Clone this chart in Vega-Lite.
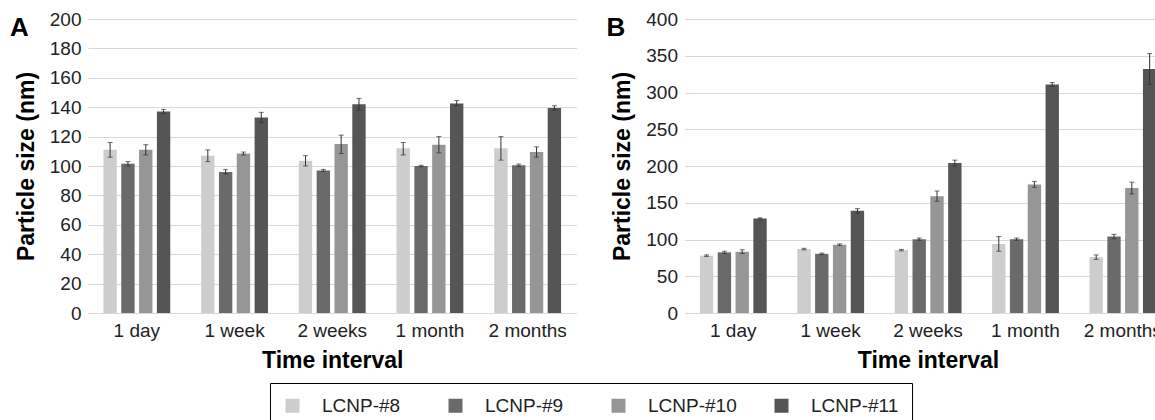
{
  "$schema": "https://vega.github.io/schema/vega-lite/v6.json",
  "background": "white",
  "padding": {"left": 10, "top": 10, "right": 0, "bottom": 0},
  "datasets": {
    "A": [
      {"time": "1 day", "series": "LCNP-#8", "size": 111, "lo": 106, "hi": 116},
      {"time": "1 day", "series": "LCNP-#9", "size": 101.5, "lo": 100, "hi": 103},
      {"time": "1 day", "series": "LCNP-#10", "size": 111, "lo": 107.5, "hi": 114.5},
      {"time": "1 day", "series": "LCNP-#11", "size": 137, "lo": 135.5, "hi": 138.5},
      {"time": "1 week", "series": "LCNP-#8", "size": 107, "lo": 103, "hi": 111},
      {"time": "1 week", "series": "LCNP-#9", "size": 96, "lo": 94.5, "hi": 97.5},
      {"time": "1 week", "series": "LCNP-#10", "size": 108.5, "lo": 107.5, "hi": 109.5},
      {"time": "1 week", "series": "LCNP-#11", "size": 133, "lo": 129.5, "hi": 136.5},
      {"time": "2 weeks", "series": "LCNP-#8", "size": 103.5, "lo": 100, "hi": 107},
      {"time": "2 weeks", "series": "LCNP-#9", "size": 97, "lo": 96.3, "hi": 97.7},
      {"time": "2 weeks", "series": "LCNP-#10", "size": 115, "lo": 108.5, "hi": 121},
      {"time": "2 weeks", "series": "LCNP-#11", "size": 142, "lo": 138, "hi": 146},
      {"time": "1 month", "series": "LCNP-#8", "size": 112, "lo": 107.5, "hi": 116},
      {"time": "1 month", "series": "LCNP-#9", "size": 100, "lo": 99.5, "hi": 100.5},
      {"time": "1 month", "series": "LCNP-#10", "size": 114.5, "lo": 109, "hi": 120},
      {"time": "1 month", "series": "LCNP-#11", "size": 142.5, "lo": 141, "hi": 144.5},
      {"time": "2 months", "series": "LCNP-#8", "size": 112, "lo": 104, "hi": 120},
      {"time": "2 months", "series": "LCNP-#9", "size": 100.5, "lo": 99.7, "hi": 101.3},
      {"time": "2 months", "series": "LCNP-#10", "size": 109.5, "lo": 106, "hi": 113},
      {"time": "2 months", "series": "LCNP-#11", "size": 139.5, "lo": 138, "hi": 141}
    ],
    "B": [
      {"time": "1 day", "series": "LCNP-#8", "size": 78, "lo": 77, "hi": 79},
      {"time": "1 day", "series": "LCNP-#9", "size": 82.5, "lo": 81, "hi": 84},
      {"time": "1 day", "series": "LCNP-#10", "size": 83.5, "lo": 81, "hi": 86},
      {"time": "1 day", "series": "LCNP-#11", "size": 128.5, "lo": 127.5, "hi": 129.5},
      {"time": "1 week", "series": "LCNP-#8", "size": 87, "lo": 86, "hi": 88},
      {"time": "1 week", "series": "LCNP-#9", "size": 80.5, "lo": 79.5, "hi": 81.5},
      {"time": "1 week", "series": "LCNP-#10", "size": 93, "lo": 92, "hi": 94},
      {"time": "1 week", "series": "LCNP-#11", "size": 139, "lo": 136, "hi": 142},
      {"time": "2 weeks", "series": "LCNP-#8", "size": 85.5, "lo": 84.5, "hi": 86.5},
      {"time": "2 weeks", "series": "LCNP-#9", "size": 100.5, "lo": 99, "hi": 102},
      {"time": "2 weeks", "series": "LCNP-#10", "size": 159, "lo": 152, "hi": 166},
      {"time": "2 weeks", "series": "LCNP-#11", "size": 204, "lo": 200, "hi": 208},
      {"time": "1 month", "series": "LCNP-#8", "size": 94, "lo": 84, "hi": 104},
      {"time": "1 month", "series": "LCNP-#9", "size": 100.5, "lo": 99, "hi": 102},
      {"time": "1 month", "series": "LCNP-#10", "size": 175, "lo": 171, "hi": 179},
      {"time": "1 month", "series": "LCNP-#11", "size": 311, "lo": 308.5, "hi": 313.5},
      {"time": "2 months", "series": "LCNP-#8", "size": 76, "lo": 73, "hi": 79},
      {"time": "2 months", "series": "LCNP-#9", "size": 104, "lo": 101, "hi": 107},
      {"time": "2 months", "series": "LCNP-#10", "size": 170, "lo": 162, "hi": 178},
      {"time": "2 months", "series": "LCNP-#11", "size": 332, "lo": 311, "hi": 353}
    ]
  },
  "spacing": 107.5,
  "bounds": "flush",
  "hconcat": [
    {
      "width": 488.5,
      "height": 294,
      "data": {"name": "A"},
      "title": {"text": "A", "anchor": "start", "frame": "group", "orient": "top", "fontSize": 26, "fontWeight": "bold", "font": "Liberation Sans", "color": "#000", "baseline": "top", "offset": -31, "dx": -78},
      "encoding": {
        "x": {"field": "time", "type": "nominal", "sort": ["1 day", "1 week", "2 weeks", "1 month", "2 months"], "scale": {"paddingInner": 0.316, "paddingOuter": 0.158}, "title": "Time interval"},
        "xOffset": {"field": "series", "type": "nominal", "sort": ["LCNP-#8", "LCNP-#9", "LCNP-#10", "LCNP-#11"], "scale": {"paddingInner": 0.25, "paddingOuter": 0}}
      },
      "layer": [
        {
          "mark": {"type": "bar"},
          "encoding": {
            "y": {"field": "size", "type": "quantitative", "scale": {"domain": [0, 200], "nice": false}, "axis": {"values": [0, 20, 40, 60, 80, 100, 120, 140, 160, 180, 200], "labelOverlap": false, "title": "Particle size (nm)"}},
            "color": {"field": "series", "type": "nominal", "scale": {"domain": ["LCNP-#8", "LCNP-#9", "LCNP-#10", "LCNP-#11"], "range": ["#cdcdcd", "#6a6a6a", "#969696", "#555555"]}, "title": null}
          }
        },
        {
          "mark": {"type": "rule", "color": "#333333", "strokeWidth": 1},
          "encoding": {"y": {"field": "lo", "type": "quantitative", "axis": {"values": [0, 20, 40, 60, 80, 100, 120, 140, 160, 180, 200], "labelOverlap": false, "title": "Particle size (nm)"}}, "y2": {"field": "hi"}}
        },
        {
          "mark": {"type": "tick", "color": "#333333", "size": 5, "thickness": 1},
          "encoding": {"y": {"field": "lo", "type": "quantitative", "axis": {"values": [0, 20, 40, 60, 80, 100, 120, 140, 160, 180, 200], "labelOverlap": false, "title": "Particle size (nm)"}}}
        },
        {
          "mark": {"type": "tick", "color": "#333333", "size": 5, "thickness": 1},
          "encoding": {"y": {"field": "hi", "type": "quantitative", "axis": {"values": [0, 20, 40, 60, 80, 100, 120, 140, 160, 180, 200], "labelOverlap": false, "title": "Particle size (nm)"}}}
        }
      ]
    },
    {
      "width": 487,
      "height": 294,
      "data": {"name": "B"},
      "title": {"text": "B", "anchor": "start", "frame": "group", "orient": "top", "fontSize": 26, "fontWeight": "bold", "font": "Liberation Sans", "color": "#000", "baseline": "top", "offset": -31, "dx": -78},
      "encoding": {
        "x": {"field": "time", "type": "nominal", "sort": ["1 day", "1 week", "2 weeks", "1 month", "2 months"], "scale": {"paddingInner": 0.316, "paddingOuter": 0.158}, "title": "Time interval"},
        "xOffset": {"field": "series", "type": "nominal", "sort": ["LCNP-#8", "LCNP-#9", "LCNP-#10", "LCNP-#11"], "scale": {"paddingInner": 0.25, "paddingOuter": 0}}
      },
      "layer": [
        {
          "mark": {"type": "bar"},
          "encoding": {
            "y": {"field": "size", "type": "quantitative", "scale": {"domain": [0, 400], "nice": false}, "axis": {"values": [0, 50, 100, 150, 200, 250, 300, 350, 400], "labelOverlap": false, "title": "Particle size (nm)"}},
            "color": {"field": "series", "type": "nominal", "scale": {"domain": ["LCNP-#8", "LCNP-#9", "LCNP-#10", "LCNP-#11"], "range": ["#cdcdcd", "#6a6a6a", "#969696", "#555555"]}, "title": null}
          }
        },
        {
          "mark": {"type": "rule", "color": "#333333", "strokeWidth": 1},
          "encoding": {"y": {"field": "lo", "type": "quantitative", "axis": {"values": [0, 50, 100, 150, 200, 250, 300, 350, 400], "labelOverlap": false, "title": "Particle size (nm)"}}, "y2": {"field": "hi"}}
        },
        {
          "mark": {"type": "tick", "color": "#333333", "size": 5, "thickness": 1},
          "encoding": {"y": {"field": "lo", "type": "quantitative", "axis": {"values": [0, 50, 100, 150, 200, 250, 300, 350, 400], "labelOverlap": false, "title": "Particle size (nm)"}}}
        },
        {
          "mark": {"type": "tick", "color": "#333333", "size": 5, "thickness": 1},
          "encoding": {"y": {"field": "hi", "type": "quantitative", "axis": {"values": [0, 50, 100, 150, 200, 250, 300, 350, 400], "labelOverlap": false, "title": "Particle size (nm)"}}}
        }
      ]
    }
  ],
  "config": {
    "view": {"stroke": null},
    "font": "Liberation Sans",
    "axis": {
      "labelFont": "Liberation Sans", "labelFontSize": 19, "labelColor": "#222222", "labelOverlap": false,
      "titleFont": "Liberation Sans", "titleFontSize": 23, "titleFontWeight": "bold", "titleColor": "#000000",
      "gridColor": "#d9d9d9", "gridWidth": 1, "domainColor": "#d9d9d9", "ticks": false, "tickSize": 0
    },
    "axisX": {"grid": false, "labelAngle": 0, "labelPadding": 8, "titlePadding": 9, "domain": true},
    "axisY": {"grid": true, "domain": false, "labelPadding": 7, "titlePadding": 11},
    "legend": {
      "orient": "bottom", "direction": "horizontal", "columns": 4, "gridAlign": "all",
      "labelFont": "Liberation Sans", "labelFontSize": 19, "labelColor": "#222222", "labelLimit": 300,
      "symbolType": "square", "symbolSize": 196, "symbolStrokeWidth": 0,
      "labelOffset": 20, "columnPadding": 35, "padding": 13, "strokeColor": "#000000", "offset": 11,
      "layout": {"anchor": "middle", "bottom": {"anchor": "middle"}}
    }
  }
}
